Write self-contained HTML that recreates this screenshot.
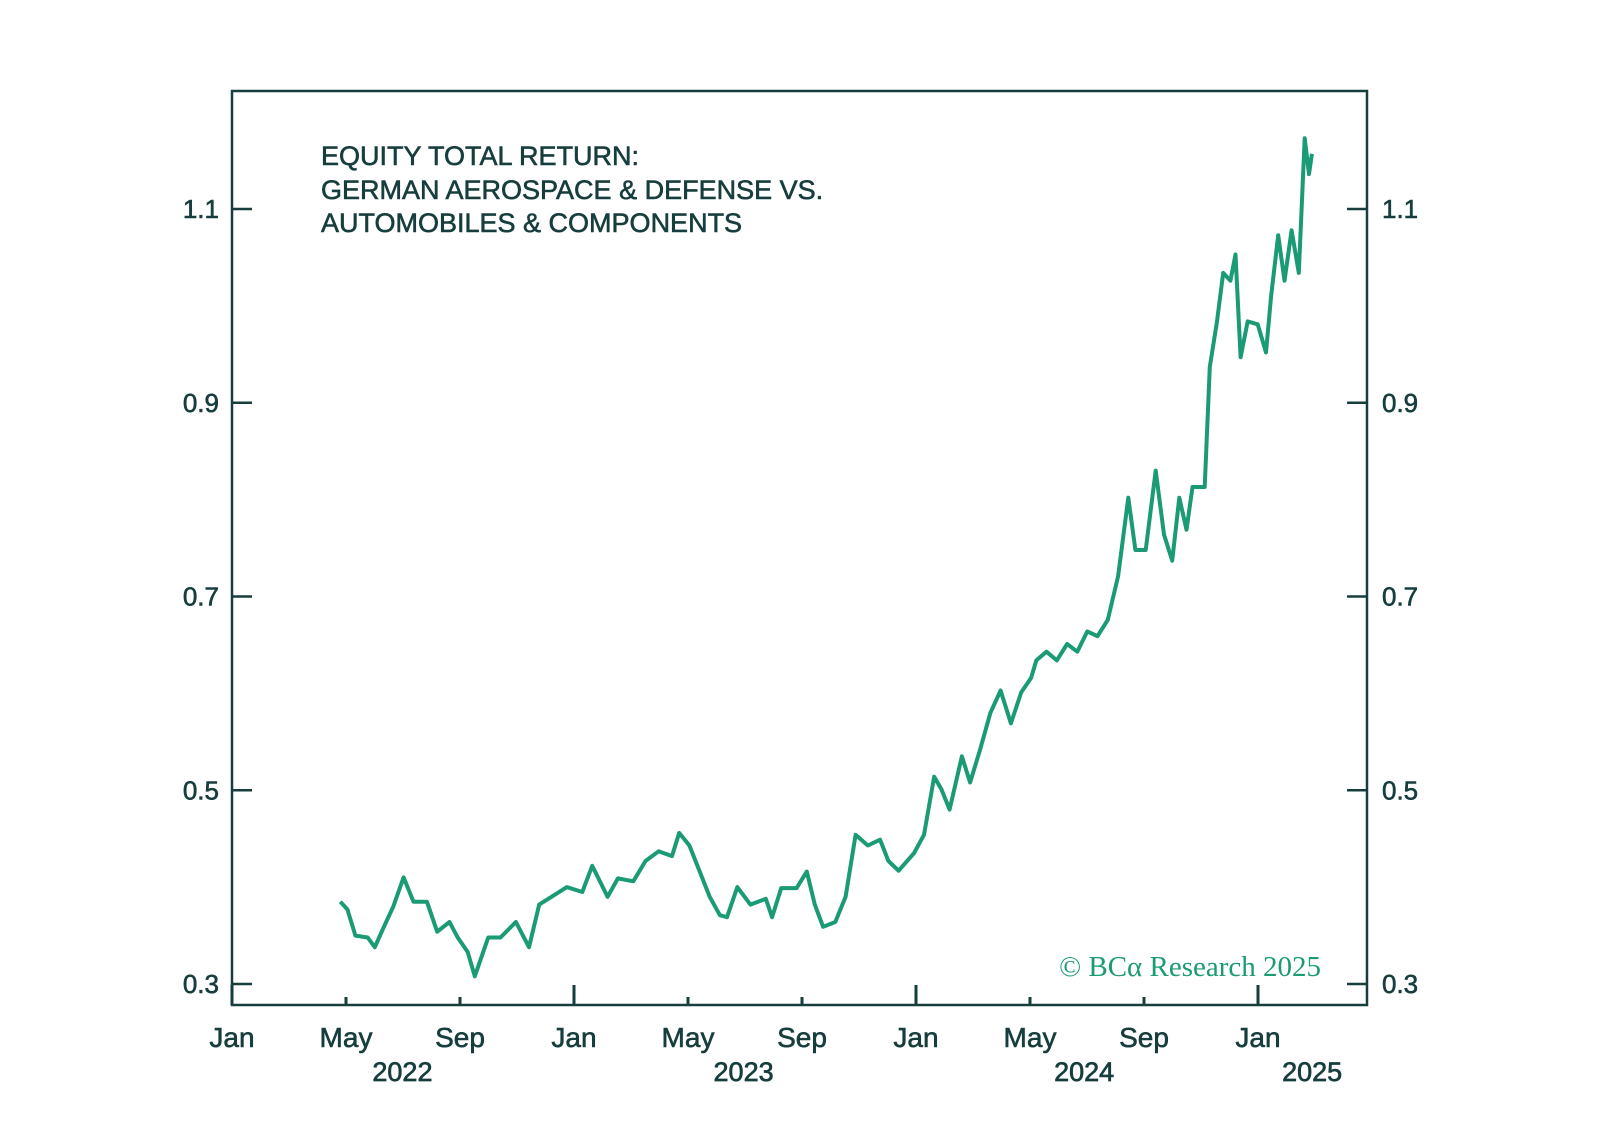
<!DOCTYPE html>
<html><head><meta charset="utf-8"><style>
body{margin:0;background:#fff;}
svg{display:block;font-family:"Liberation Sans",sans-serif;}
</style></head><body>
<svg id="chart" width="1597" height="1144" viewBox="0 0 1597 1144" xmlns="http://www.w3.org/2000/svg">
<rect x="0" y="0" width="1597" height="1144" fill="#fff"/>
<g id="axes"></g>
<g id="series"></g>
<g fill="#173d3d" stroke="#173d3d" stroke-width="0.6" font-size="27">
<text x="321" y="165">EQUITY TOTAL RETURN:</text>
<text x="321" y="199">GERMAN AEROSPACE &amp; DEFENSE VS.</text>
<text x="321" y="232">AUTOMOBILES &amp; COMPONENTS</text>
</g>
<text x="1321" y="976" text-anchor="end" font-family="Liberation Serif,serif" font-size="29" fill="#1a9a75">© BCα Research 2025</text>
</svg>
<script>
const months = [3.80,4.05,4.33,4.76,5.01,5.30,5.66,6.02,6.37,6.84,7.20,7.63,7.92,8.27,8.52,8.99,9.42,9.96,10.42,10.78,11.21,11.75,12.29,12.64,13.18,13.54,14.08,14.51,14.97,15.44,15.69,16.05,16.40,16.76,17.12,17.37,17.73,18.19,18.73,18.95,19.27,19.81,20.17,20.45,20.74,21.17,21.53,21.88,22.31,22.74,23.03,23.39,23.93,24.28,24.64,24.89,25.18,25.61,25.90,26.25,26.61,26.97,27.33,27.69,28.04,28.22,28.58,28.94,29.30,29.66,30.01,30.37,30.73,31.09,31.45,31.70,32.06,32.41,32.70,32.99,33.24,33.49,33.70,34.13,34.31,34.56,34.78,35.03,35.21,35.39,35.64,35.99,36.28,36.46,36.71,36.93,37.18,37.43,37.64,37.79,37.89];
const values = [0.385,0.377,0.35,0.348,0.338,0.357,0.38,0.41,0.385,0.385,0.354,0.364,0.348,0.333,0.308,0.348,0.348,0.364,0.338,0.382,0.39,0.40,0.395,0.422,0.39,0.409,0.406,0.427,0.437,0.432,0.456,0.443,0.417,0.39,0.371,0.369,0.40,0.382,0.388,0.369,0.399,0.399,0.416,0.382,0.359,0.364,0.39,0.454,0.443,0.449,0.427,0.417,0.435,0.454,0.514,0.501,0.48,0.535,0.508,0.542,0.58,0.603,0.569,0.601,0.616,0.634,0.643,0.634,0.651,0.643,0.664,0.659,0.676,0.721,0.802,0.748,0.748,0.83,0.764,0.737,0.802,0.769,0.813,0.813,0.937,0.984,1.034,1.026,1.053,0.947,0.984,0.981,0.952,1.01,1.073,1.026,1.078,1.034,1.173,1.136,1.157];
const yTicks = [0.3,0.5,0.7,0.9,1.1];
const yTickLabels = ["0.3","0.5","0.7","0.9","1.1"];
const xTicks = [0,4,8,12,16,20,24,28,32,36];
const xTickLabels = ["Jan","May","Sep","Jan","May","Sep","Jan","May","Sep","Jan"];
const years = ["2022","2023","2024","2025"];
const yearPos = [5.98,17.95,29.9,37.9];

const L=232,R=1367,T=91,B=1005,INK="#173d3d",NS="http://www.w3.org/2000/svg";
const xs=m=>L+m*28.5;
const ys=v=>984-(v-0.3)/0.2*193.75;
const axes=document.getElementById('axes'),ser=document.getElementById('series');
function mk(tag,attrs,parent,txt){const e=document.createElementNS(NS,tag);for(const k in attrs)e.setAttribute(k,attrs[k]);if(txt!=null)e.textContent=txt;parent.appendChild(e);return e;}
const frame=mk('rect',{x:L,y:T,width:R-L,height:B-T,fill:'none',stroke:INK,'stroke-width':2.5},axes);


yTicks.forEach((v,i)=>{
  const y=ys(v);
  const t1=mk('line',{x1:L,x2:L+20,y1:y,y2:y,stroke:INK,'stroke-width':2.5},axes);
  
  
  const t2=mk('line',{x1:R-20,x2:R,y1:y,y2:y,stroke:INK,'stroke-width':2.5},axes);
  
  
  const a=mk('text',{x:219,y:y+9,'text-anchor':'end','font-size':26,fill:INK,stroke:INK,'stroke-width':0.6},axes,yTickLabels[i]);
  
  
  const b=mk('text',{x:1382,y:y+9,'font-size':26,fill:INK,stroke:INK,'stroke-width':0.6},axes,yTickLabels[i]);
  
  
});
xTicks.forEach((m,i)=>{
  const x=xs(m),len=(m%12===0)?20:8;
  const t=mk('line',{x1:x,x2:x,y1:B,y2:B-len,stroke:INK,'stroke-width':3},axes);
  
  
  const l=mk('text',{x:x,y:1047,'text-anchor':'middle','font-size':28,fill:INK,stroke:INK,'stroke-width':0.6},axes,xTickLabels[i]);
  
  
});
years.forEach((y,i)=>{
  const l=mk('text',{x:xs(yearPos[i]),y:1081,'text-anchor':'middle','font-size':27,fill:INK,stroke:INK,'stroke-width':0.7},axes,y);
  
  
});
const d=months.map((m,i)=>(i?'L':'M')+xs(m).toFixed(1)+','+ys(values[i]).toFixed(1)).join(' ');
const p=mk('path',{d:d,fill:'none',stroke:'#1a9a75','stroke-width':4,'stroke-linejoin':'round'},ser);


</script>
</body></html>
